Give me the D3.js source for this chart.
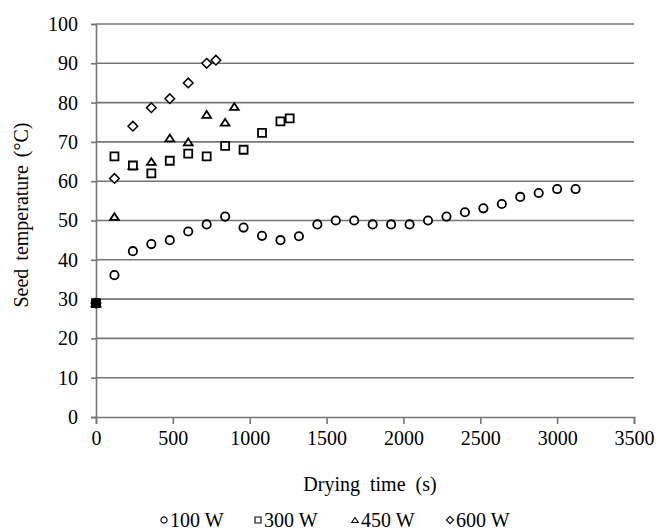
<!DOCTYPE html>
<html>
<head>
<meta charset="utf-8">
<title>Seed temperature</title>
<style>
  body { margin: 0; background: #fff; }
</style>
</head>
<body>
<main></main>
<script src="https://cdn.jsdelivr.net/npm/d3@7"></script>
<script>
// drying time (s) and seed temperature (°C) for each power level
var time100 = [0, 120, 240, 360, 480, 600, 720, 840, 960, 1080, 1200, 1320, 1440, 1560, 1680, 1800, 1920, 2040, 2160, 2280, 2400, 2520, 2640, 2760, 2880, 3000, 3120];
var temp100 = [29, 36.1, 42.2, 44, 45, 47.2, 49, 51, 48.2, 46.1, 45, 46, 49, 50, 50, 49, 49, 49, 50, 51, 52.1, 53.1, 54.2, 56, 57, 58, 58];
var time300 = [0, 120, 240, 360, 480, 600, 720, 840, 960, 1080, 1200, 1260];
var temp300 = [29, 66.3, 64, 62, 65.2, 67, 66.3, 69, 68, 72.3, 75.2, 76];
var time450 = [0, 120, 240, 360, 480, 600, 720, 840, 900];
var temp450 = [29, 51, 64, 65, 71, 70, 77, 75, 79];
var time600 = [0, 120, 240, 360, 480, 600, 720, 780];
var temp600 = [29, 60.7, 74, 78.7, 81, 85, 90, 90.8];

var seriesNames = ["100 W", "300 W", "450 W", "600 W"];
var xTicks = [0, 500, 1000, 1500, 2000, 2500, 3000, 3500];
var yTicks = [0, 10, 20, 30, 40, 50, 60, 70, 80, 90, 100];

var width = 659, height = 532;
var margin = {top: 24, right: 25, bottom: 115, left: 96};
var serif = "'Liberation Serif', 'Times New Roman', Times, serif";

var svg = d3.select("main").append("svg")
    .attr("width", width)
    .attr("height", height);

var x = d3.scaleLinear().domain([0, 3500]).range([margin.left, width - margin.right]);
var y = d3.scaleLinear().domain([0, 100]).range([height - margin.bottom, margin.top]);

// horizontal grid
svg.append("g")
    .selectAll("line")
    .data(yTicks.slice(1))
    .enter().append("line")
    .attr("x1", x(0)).attr("x2", x(3500))
    .attr("y1", function (d) { return y(d); })
    .attr("y2", function (d) { return y(d); })
    .attr("stroke", "#767676")
    .attr("stroke-width", 1.6);

// y axis
var yAxis = svg.append("g")
    .attr("transform", "translate(" + x(0) + ",0)")
    .call(d3.axisLeft(y).tickValues(yTicks).tickSize(5).tickPadding(13));
// x axis
var xAxis = svg.append("g")
    .attr("transform", "translate(0," + y(0) + ")")
    .call(d3.axisBottom(x).tickValues(xTicks).tickSize(7).tickPadding(7).tickFormat(d3.format("d")));

[yAxis, xAxis].forEach(function (a) {
    a.select(".domain").attr("stroke", "#767676").attr("stroke-width", 1.6);
    a.selectAll(".tick line").attr("stroke", "#767676").attr("stroke-width", 1.6);
    a.selectAll("text")
        .style("font-family", serif)
        .style("font-size", "20px")
        .attr("fill", "#000");
});

// marker shapes
function shape(i, s) {
    if (i === 0) return d3.symbol().type(d3.symbolCircle).size(s * s * 0.85)();
    if (i === 1) return d3.symbol().type(d3.symbolSquare).size(s * s)();
    if (i === 2) {
        var h = s * 0.85, w = s * 0.55;
        return "M0," + (-h / 2) + "L" + w + "," + (h / 2) + "L" + (-w) + "," + (h / 2) + "Z";
    }
    var r = s * 0.6;
    return "M0," + (-r) + "L" + r + ",0L0," + r + "L" + (-r) + ",0Z";
}

var times = [time100, time300, time450, time600];
var temps = [temp100, temp300, temp450, temp600];

for (var i = 3; i >= 0; i--) {
    var pts = times[i].map(function (t, j) { return {t: t, v: temps[i][j]}; });
    svg.append("g")
        .selectAll("path")
        .data(pts)
        .enter().append("path")
        .attr("d", shape(i, 8))
        .attr("transform", function (d) { return "translate(" + x(d.t) + "," + y(d.v) + ")"; })
        .attr("fill", function (d) { return d.t === 0 ? "#000" : "#fff"; })
        .attr("stroke", "#000")
        .attr("stroke-width", i === 3 ? 1.5 : 1.8);
}

// axis titles
svg.append("text")
    .attr("x", 370).attr("y", 491)
    .attr("text-anchor", "middle")
    .style("font-family", serif)
    .style("font-size", "20px")
    .style("word-spacing", "5px")
    .text("Drying time (s)");

svg.append("text")
    .attr("transform", "translate(28,215) rotate(-90)")
    .attr("text-anchor", "middle")
    .style("font-family", serif)
    .style("font-size", "20px")
    .style("word-spacing", "3px")
    .text("Seed temperature (°C)");

// legend
var legendX = [164, 258, 355, 450];
var legend = svg.append("g")
    .selectAll("g")
    .data(seriesNames)
    .enter().append("g")
    .attr("transform", function (d, i) { return "translate(" + legendX[i] + ",520)"; });
legend.append("path")
    .attr("d", function (d, i) { return shape(i, 6); })
    .attr("fill", "#fff")
    .attr("stroke", "#000")
    .attr("stroke-width", 1.1);
legend.append("text")
    .attr("x", 6).attr("y", 6.5)
    .style("font-family", serif)
    .style("font-size", "20px")
    .text(function (d) { return d; });
</script>
</body>
</html>
